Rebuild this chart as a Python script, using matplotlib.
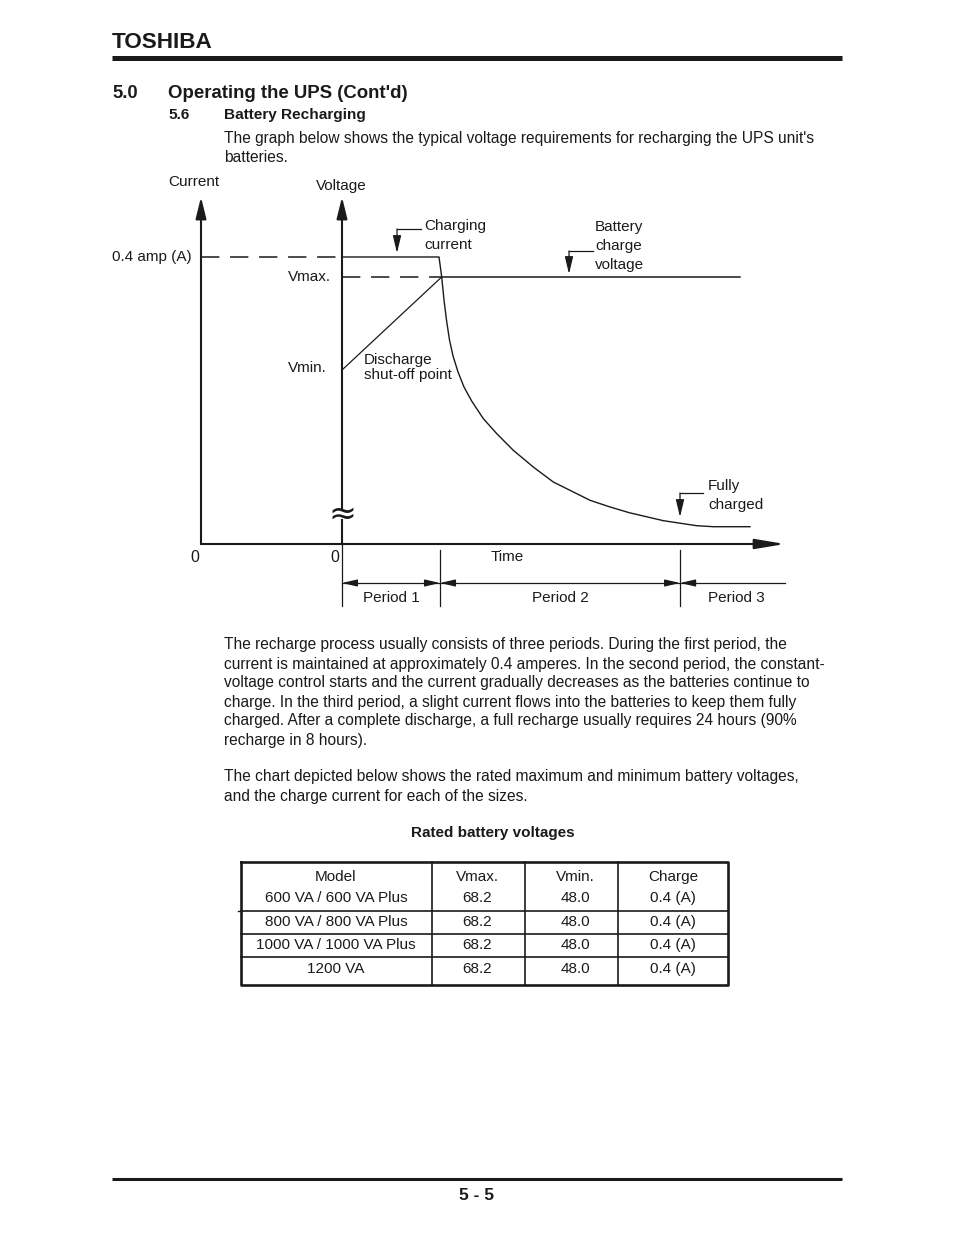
import numpy as np
import matplotlib.pyplot as plt

plt.rcParams['font.family'] = ['Liberation Sans', 'DejaVu Sans']
INK = '#1a1a1a'

# ---- diagram values (schematic time units) ----
charge_current = 0.4          # A
v_max = 68.2
v_min = 48.0
period_bounds = [0.0, 1.0, 3.45]
period_labels = ['Period 1', 'Period 2', 'Period 3']
decay_t = [0.99, 1.017, 1.041, 1.066, 1.097, 1.133, 1.184, 1.245, 1.323, 1.442, 1.579, 1.748,
           1.952, 2.156, 2.327, 2.531, 2.735, 2.932, 3.279, 3.619, 3.789, 4.163]
decay_i = [0.4, 0.3725, 0.340, 0.3122, 0.2843, 0.262, 0.2397, 0.2188, 0.1993, 0.1747, 0.1538, 0.1306,
           0.1073, 0.0864, 0.0748, 0.0609, 0.0516, 0.0436, 0.0325, 0.0255, 0.0241, 0.0241]
ramp_t = [0.0, 1.017]
ramp_v = [v_min, v_max]
v_line_end = 4.06

# ---- table values ----
col_names = ['Model', 'Vmax.', 'Vmin.', 'Charge']
models = ['600 VA / 600 VA Plus', '800 VA / 800 VA Plus', '1000 VA / 1000 VA Plus', '1200 VA']
tab_vmax = [68.2, 68.2, 68.2, 68.2]
tab_vmin = [48.0, 48.0, 48.0, 48.0]
tab_charge = [0.4, 0.4, 0.4, 0.4]

para1 = ["The graph below shows the typical voltage requirements for recharging the UPS unit's",
         "batteries."]
para2 = ["The recharge process usually consists of three periods. During the first period, the",
         "current is maintained at approximately 0.4 amperes. In the second period, the constant-",
         "voltage control starts and the current gradually decreases as the batteries continue to",
         "charge. In the third period, a slight current flows into the batteries to keep them fully",
         "charged. After a complete discharge, a full recharge usually requires 24 hours (90%",
         "recharge in 8 hours)."]
para3 = ["The chart depicted below shows the rated maximum and minimum battery voltages,",
         "and the charge current for each of the sizes."]

W, H = 954, 1235
fig = plt.figure(figsize=(W / 100, H / 100), dpi=100)

# page axes in pixel units
page = fig.add_axes([0, 0, 1, 1])
page.set_xlim(0, W)
page.set_ylim(H, 0)
page.axis('off')


def frac(x0, y0, x1, y1):
    return [x0 / W, 1 - y1 / H, (x1 - x0) / W, (y1 - y0) / H]


def txt(x, y, s, size=11.2, **kw):
    kw.setdefault('va', 'center')
    page.text(x, y, s, fontsize=size, color=INK, **kw)


# header / footer
txt(112, 42, 'TOSHIBA', 16.2, weight='bold')
page.plot([112, 842], [58, 58], color=INK, lw=3.6, solid_capstyle='butt')
txt(112, 93, '5.0', 13.3, weight='bold')
txt(168, 93, "Operating the UPS (Cont'd)", 13.4, weight='bold')
txt(168, 115, '5.6', 11.1, weight='bold')
txt(224, 115, 'Battery Recharging', 11.1, weight='bold')
for k, line in enumerate(para1):
    txt(224, 139 + 19 * k, line)
for k, line in enumerate(para2):
    txt(224, 645 + 19 * k, line)
for k, line in enumerate(para3):
    txt(224, 777 + 19 * k, line)
page.plot([112, 842], [1178.5, 1178.5], color=INK, lw=2.2, solid_capstyle='butt')
txt(477, 1195, '5 - 5', 12.5, weight='bold', ha='center')

# ---- diagram axes ----
ax = fig.add_axes(frac(201, 190, 785, 612))
t0, t1 = -141 / 98, 443 / 98
ax.set_xlim(t0, t1)
ax.set_ylim(-68 / 717.5, 354 / 717.5)
ax.axis('off')
vax = ax.twinx()
vax.set_ylim(48 - 242 * 20.2 / 93, 68.2 + 87 * 20.2 / 93)
vax.axis('off')

i_top = 347 / 717.5
brk_lo, brk_hi = 25 / 717.5, 34 / 717.5
axis_arrow = dict(arrowstyle='-|>,head_length=0.65,head_width=0.16', color=INK,
                  lw=1.5, mutation_scale=20, shrinkA=0, shrinkB=0)
ax.annotate('', xy=(t0, i_top), xytext=(t0, 0), arrowprops=axis_arrow, annotation_clip=False)
ax.annotate('', xy=(0, i_top), xytext=(0, brk_hi), arrowprops=axis_arrow, annotation_clip=False)
ax.plot([0, 0], [0, brk_lo], color=INK, lw=1.5, solid_capstyle='butt')
ax.annotate('', xy=(t1, 0), xytext=(t0, 0),
            arrowprops=dict(axis_arrow, arrowstyle='-|>,head_length=0.9,head_width=0.15'),
            annotation_clip=False)
ax.text(0, (brk_lo + brk_hi) / 2, '\u2248', fontsize=24, ha='center', va='center', color=INK,
        family='DejaVu Sans')

# current trace
ax.plot([t0, 0], [charge_current, charge_current], color=INK, lw=1.1, dashes=(12, 7), clip_on=False)
ax.plot([0] + decay_t, [charge_current] + decay_i, color=INK, lw=1.0, clip_on=False)
# voltage trace
vax.plot([0, ramp_t[1]], [v_max, v_max], color=INK, lw=1.1, dashes=(12, 7))
vax.plot([ramp_t[1], v_line_end], [v_max, v_max], color=INK, lw=1.1)
vax.plot(ramp_t, ramp_v, color=INK, lw=0.9)

# axis texts
fs = 11
ax.text(t0 - 7 / 98, 362 / 717.5, 'Current', fontsize=fs, ha='center', va='center', color=INK)
ax.text(-1 / 98, 358 / 717.5, 'Voltage', fontsize=fs, ha='center', va='center', color=INK)
ax.annotate('0.4 amp (A)', xy=(t0, charge_current), xytext=(-6.5, 0), textcoords='offset points',
            ha='right', va='center', fontsize=fs, color=INK, annotation_clip=False)
vax.annotate('Vmax.', xy=(0, v_max), xytext=(-39, 0), textcoords='offset points',
             ha='left', va='center', fontsize=fs, color=INK)
vax.annotate('Vmin.', xy=(0, v_min), xytext=(-39, 1.5), textcoords='offset points',
             ha='left', va='center', fontsize=fs, color=INK)
vax.annotate('Discharge\nshut-off point', xy=(0, v_min), xytext=(16, 2), textcoords='offset points',
             ha='left', va='center', fontsize=fs, color=INK, linespacing=1.12)
ax.text(t0 - 6 / 98, -13 / 717.5, '0', fontsize=11.5, ha='center', va='center', color=INK)
ax.text(-7 / 98, -14 / 717.5, '0', fontsize=11.5, ha='center', va='center', color=INK)
ax.text(165 / 98, -13 / 717.5, 'Time', fontsize=fs, ha='center', va='center', color=INK)

# period dimension line
y_dim = -39 / 717.5
ax.plot([0, t1], [y_dim, y_dim], color=INK, lw=0.9, clip_on=False)
for k, b in enumerate(period_bounds):
    ax.plot([b, b], [-1 / 717.5 if k == 0 else -6 / 717.5, -62 / 717.5], color=INK, lw=0.9)
dim_arrow = dict(arrowstyle='-|>,head_length=0.65,head_width=0.15', color=INK,
                 lw=0.9, mutation_scale=14, shrinkA=0, shrinkB=0)
ends = period_bounds[1:] + [4.6]
for k, (a, b) in enumerate(zip(period_bounds, ends)):
    ax.annotate('', xy=(a, y_dim), xytext=(a + 0.16, y_dim), arrowprops=dim_arrow)
    if k < len(period_bounds) - 1:
        ax.annotate('', xy=(b, y_dim), xytext=(b - 0.16, y_dim), arrowprops=dim_arrow)
    ax.text((a + b) / 2, -54 / 717.5, period_labels[k], fontsize=fs, ha='center', va='center', color=INK)

# callouts (pixel positions on page)
call_arrow = dict(arrowstyle='-|>,head_length=0.75,head_width=0.18', color=INK,
                  lw=0.9, mutation_scale=14, shrinkA=0, shrinkB=0)
callouts = [(397, 229, 253, 421, 424, ['Charging', 'current'], 226),
            (569, 251, 274, 593, 595, ['Battery', 'charge', 'voltage'], 227),
            (680, 493, 517, 703, 708, ['Fully', 'charged'], 486)]
for xa, yh, ytip, xe, xt, lines, ty in callouts:
    page.plot([xa, xe], [yh, yh], color=INK, lw=0.9)
    page.annotate('', xy=(xa, ytip), xytext=(xa, yh), arrowprops=call_arrow)
    for k, line in enumerate(lines):
        txt(xt, ty + 19 * k, line, fs)

# ---- table ----
txt(493, 833, 'Rated battery voltages', 11, weight='bold', ha='center')
box_x = [241.5, 432, 525, 618, 728]
box_y0, box_y1 = 861.5, 984.5
row_lines = [911, 934, 957]
row_y = [877, 898, 922, 945, 969]
col_x = [336, 477, 575, 673]
page.plot([box_x[0], box_x[-1], box_x[-1], box_x[0], box_x[0]],
          [box_y0, box_y0, box_y1, box_y1, box_y0], color=INK, lw=1.9)
for x in box_x[1:-1]:
    page.plot([x, x], [box_y0, box_y1], color=INK, lw=1.2)
for y in row_lines:
    page.plot([box_x[0], box_x[-1]], [y, y], color=INK, lw=1.2)
page.plot([238, 242], [911, 911], color=INK, lw=1.0)
rows = [col_names] + [[m, '%.1f' % a, '%.1f' % b, '%.1f (A)' % c]
                      for m, a, b, c in zip(models, tab_vmax, tab_vmin, tab_charge)]
for r, row in enumerate(rows):
    for c, cell in enumerate(row):
        txt(col_x[c], row_y[r], cell, 11, ha='center')

fig.savefig('out.png', dpi=100)
